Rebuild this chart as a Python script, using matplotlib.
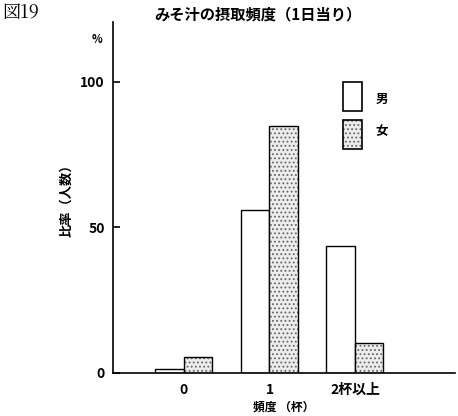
import matplotlib
matplotlib.use("Agg")
import matplotlib.pyplot as plt
import numpy as np

plt.rcParams['font.family'] = ['Noto Sans CJK JP', 'DejaVu Sans']
plt.rcParams['hatch.linewidth'] = 0.8

# Data (percent of respondents)
categories = ["0", "1", "2杯以上"]
male = [1.2, 56.0, 43.5]
female = [5.5, 85.0, 10.2]
yticks = [0, 50, 100]

DOT_FACE = "#ececec"
DOT_COLOR = "#666666"

fig = plt.figure(figsize=(4.58, 4.16), dpi=100)
ax = fig.add_axes([0.2467, 0.1034, 0.7467, 0.8438])

x = np.arange(len(categories))
w = 0.333
ax.bar(x - w / 2, male, width=w, color="white", edgecolor="black", linewidth=1.0)
# stippled fill, then black outline on top
ax.bar(x + w / 2, female, width=w, color=DOT_FACE, edgecolor=DOT_COLOR,
       linewidth=0, hatch="....")
ax.bar(x + w / 2, female, width=w, fill=False, edgecolor="black", linewidth=1.0)

ax.set_xlim(-0.83, 3.17)
ax.set_ylim(0, 120.6)
ax.spines["top"].set_visible(False)
ax.spines["right"].set_visible(False)
ax.spines["left"].set_linewidth(1.2)
ax.spines["bottom"].set_linewidth(1.2)

ax.set_yticks(yticks)
ax.set_yticklabels([str(v) for v in yticks], fontsize=10, fontweight="bold")
ax.tick_params(axis="y", direction="in", length=5, width=1.2, pad=6)
ax.set_xticks(x)
ax.set_xticklabels(categories, fontsize=10, fontweight="bold")
ax.tick_params(axis="x", length=0, pad=7)

ax.set_xlabel("頻度 （杯）", fontsize=8.5, fontweight="bold", labelpad=3)
ax.set_ylabel("比率（人数）", fontsize=9.5, fontweight="bold")
ax.yaxis.set_label_coords(-0.115, 0.5)

fig.text(0.212, 0.904, "%", fontsize=8, fontweight="bold", ha="center", va="center")
fig.text(0.563, 0.965, "みそ汁の摂取頻度（1日当り）", fontsize=11, fontweight="bold",
         ha="center", va="center")
fig.text(0.005, 0.968, "図19", fontsize=13, ha="left", va="center",
         family=["Noto Serif CJK JP", "Noto Sans CJK JP", "DejaVu Serif"])

# legend boxes
lax = fig.add_axes([0, 0, 1, 1], facecolor="none")
lax.set_xlim(0, 458)
lax.set_ylim(416, 0)
lax.axis("off")
lax.add_patch(plt.Rectangle((343, 82), 19, 29, facecolor="white", edgecolor="black", linewidth=1.2))
lax.add_patch(plt.Rectangle((343, 120), 19, 29, facecolor=DOT_FACE, edgecolor=DOT_COLOR,
                            linewidth=0, hatch="...."))
lax.add_patch(plt.Rectangle((343, 120), 19, 29, fill=False, edgecolor="black", linewidth=1.2))
lax.text(382, 99, "男", fontsize=9, fontweight="bold", ha="center", va="center")
lax.text(382, 132, "女", fontsize=9, fontweight="bold", ha="center", va="center")

fig.savefig("out.png", dpi=100)
